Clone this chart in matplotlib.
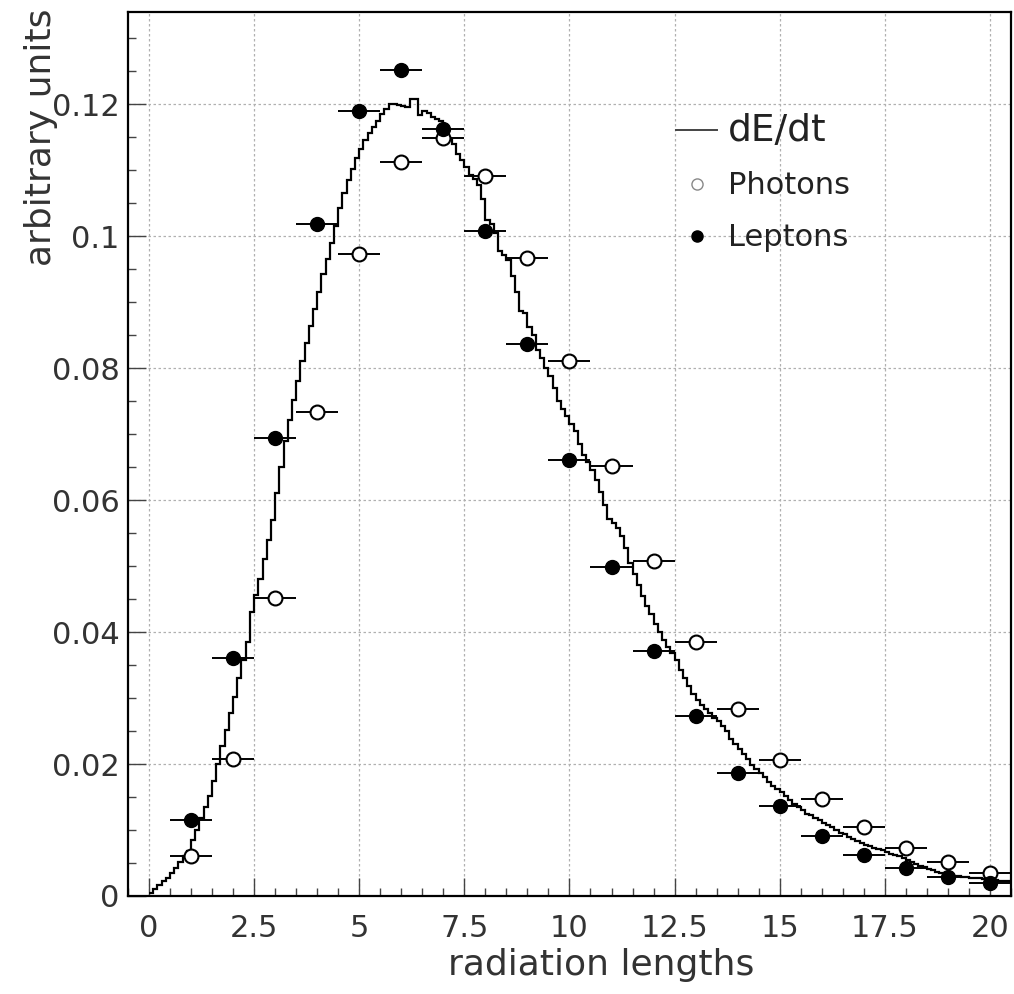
import matplotlib
matplotlib.use("Agg")
import matplotlib.pyplot as plt
from matplotlib.lines import Line2D
from matplotlib.ticker import MultipleLocator, FormatStrFormatter
import numpy as np

# sampling points (radiation lengths) for the two particle types
depth = [1, 2, 3, 4, 5, 6, 7, 8, 9, 10, 11, 12, 13, 14, 15, 16, 17, 18, 19, 20]
half_width = 0.5

photons = [0.0061, 0.0207, 0.0452, 0.0733, 0.0973, 0.1113, 0.1149, 0.1091,
           0.0967, 0.0811, 0.0651, 0.0507, 0.0385, 0.0283, 0.0206, 0.0147,
           0.0104, 0.0072, 0.0051, 0.0035]

leptons = [0.0115, 0.0361, 0.0694, 0.1018, 0.1190, 0.1251, 0.1162, 0.1008,
           0.0836, 0.0661, 0.0498, 0.0372, 0.0273, 0.0186, 0.0136, 0.0091,
           0.0062, 0.0042, 0.0029, 0.0019]

# dE/dt histogram, bins of 0.1 radiation lengths from 0 to 20.5
dedt = [
    0.0005, 0.0010, 0.0016, 0.0022, 0.0028, 0.0035, 0.0042, 0.0052, 0.0060, 0.0068,
    0.0085, 0.0100, 0.0118, 0.0135, 0.0152, 0.0175, 0.0200, 0.0228, 0.0252, 0.0278,
    0.0302, 0.0330, 0.0358, 0.0385, 0.0430, 0.0456, 0.0480, 0.0510, 0.0540, 0.0570,
    0.0610, 0.0650, 0.0690, 0.0722, 0.0752, 0.0780, 0.0810, 0.0838, 0.0864, 0.0890,
    0.0915, 0.0942, 0.0965, 0.0990, 0.1015, 0.1042, 0.1065, 0.1085, 0.1102, 0.1118,
    0.1132, 0.1146, 0.1156, 0.1165, 0.1174, 0.1185, 0.1192, 0.1200, 0.1200, 0.1198,
    0.1197, 0.1195, 0.1207, 0.1208, 0.1184, 0.1190, 0.1186, 0.1180, 0.1178, 0.1175,
    0.1150, 0.1145, 0.1140, 0.1125, 0.1115, 0.1105, 0.1092, 0.1086, 0.1078, 0.1056,
    0.1025, 0.1018, 0.1005, 0.0978, 0.0972, 0.0964, 0.0940, 0.0915, 0.0886, 0.0884,
    0.0862, 0.0850, 0.0828, 0.0815, 0.0800, 0.0788, 0.0770, 0.0750, 0.0738, 0.0727,
    0.0715, 0.0705, 0.0685, 0.0668, 0.0658, 0.0646, 0.0630, 0.0612, 0.0592, 0.0572,
    0.0565, 0.0558, 0.0545, 0.0528, 0.0505, 0.0488, 0.0472, 0.0455, 0.0440, 0.0428,
    0.0412, 0.0400, 0.0388, 0.0378, 0.0368, 0.0358, 0.0342, 0.0330, 0.0318, 0.0306,
    0.0297, 0.0290, 0.0284, 0.0278, 0.0270, 0.0265, 0.0258, 0.0250, 0.0238, 0.0230,
    0.0222, 0.0215, 0.0207, 0.0199, 0.0193, 0.0186, 0.0180, 0.0173, 0.0167, 0.0162,
    0.0157, 0.0152, 0.0146, 0.0140, 0.0135, 0.0130, 0.0125, 0.0122, 0.0118, 0.0115,
    0.0111, 0.0107, 0.0104, 0.0100, 0.0096, 0.0094, 0.0090, 0.0087, 0.0084, 0.0081,
    0.0078, 0.0076, 0.0073, 0.0071, 0.0069, 0.0066, 0.0064, 0.0062, 0.0060, 0.0057,
    0.0055, 0.0052, 0.0049, 0.0046, 0.0044, 0.0041, 0.0039, 0.0037, 0.0035, 0.0033,
    0.0032, 0.0031, 0.0030, 0.0029, 0.0029, 0.0028, 0.0028, 0.0027, 0.0026, 0.0025,
    0.0024, 0.0024, 0.0023, 0.0023, 0.0022,
]
hist_range = (0.0, 20.5)

text_col = '#333333'
plt.rcParams['font.family'] = ['DejaVu Sans']

fig = plt.figure(figsize=(10.14, 9.94), dpi=100)
ax = fig.add_axes([0.1262, 0.0986, 0.8708, 0.8896])

# dE/dt histogram
edges = np.linspace(hist_range[0], hist_range[1], len(dedt) + 1)
ax.stairs(dedt, edges, color='black', lw=1.6, baseline=None, zorder=3)

# photons (open) and leptons (filled)
ax.errorbar(depth, photons, xerr=half_width, fmt='o', ms=10, mfc='white', mec='black',
            mew=1.5, ecolor='black', elinewidth=1.4, capsize=0, zorder=4)
ax.errorbar(depth, leptons, xerr=half_width, fmt='o', ms=10, mfc='black', mec='black',
            ecolor='black', elinewidth=1.4, capsize=0, zorder=5)

ax.set_xlim(-0.5, 20.5)
ax.set_ylim(0, 0.134)

ax.xaxis.set_major_locator(MultipleLocator(2.5))
ax.xaxis.set_minor_locator(MultipleLocator(0.5))
ax.yaxis.set_major_locator(MultipleLocator(0.02))
ax.yaxis.set_minor_locator(MultipleLocator(0.005))
ax.xaxis.set_major_formatter(FormatStrFormatter('%g'))
ax.yaxis.set_major_formatter(FormatStrFormatter('%g'))

ax.tick_params(which='both', direction='in', top=False, right=False,
               width=1.0, color='#444444', labelsize=22, labelcolor=text_col)
ax.tick_params(axis='x', which='major', length=13, pad=13)
ax.tick_params(axis='y', which='major', length=13, pad=6)
ax.tick_params(which='minor', length=6)

ax.grid(True, which='major', color='#b0b0b0', linestyle=(0, (2, 2)), lw=0.9)
ax.set_axisbelow(True)
for sp in ax.spines.values():
    sp.set_linewidth(1.6)
    sp.set_color('black')

# axis titles, ROOT style
fig.text(41 / 1014, 1 - 8 / 994, 'arbitrary units', rotation=90, ha='center', va='top',
         fontsize=26, color=text_col)
fig.text(601 / 1014, 1 - 965 / 994, 'radiation lengths', ha='center', va='center',
         fontsize=26, color=text_col)

handles = [
    Line2D([], [], color='#444444', lw=1.4),
    Line2D([], [], ls='none', marker='o', ms=8, mfc='white', mec='#888888', mew=1.0),
    Line2D([], [], ls='none', marker='o', ms=8, mfc='black', mec='black'),
]
leg = ax.legend(handles, ['dE/dt', 'Photons', 'Leptons'], loc='upper left',
                bbox_to_anchor=(0.6206, 0.886), frameon=False, fontsize=22,
                handlelength=1.35, handletextpad=0.35, labelspacing=0.75,
                borderpad=0, borderaxespad=0)
for t in leg.get_texts():
    t.set_color('#222222')
leg.get_texts()[0].set_fontsize(27)

fig.savefig('out.png', dpi=100)
